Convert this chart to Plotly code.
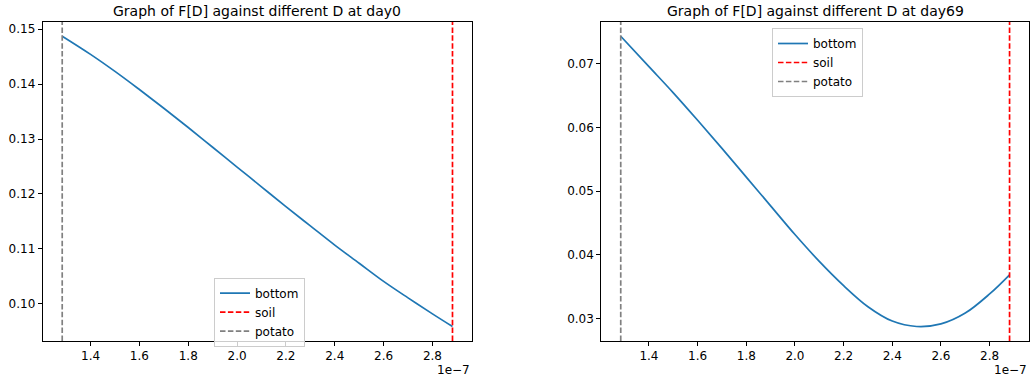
import plotly.graph_objects as go

# ---------------- data ----------------
D_values = [1.284e-7, 1.4e-7, 1.5e-7, 1.6e-7, 1.7e-7, 1.8e-7, 1.9e-7, 2.0e-7, 2.1e-7, 2.2e-7,
            2.3e-7, 2.4e-7, 2.5e-7, 2.6e-7, 2.7e-7, 2.8e-7, 2.882e-7]
F_day0 = [0.1487, 0.1454, 0.1423, 0.1390, 0.1356, 0.1321, 0.1285, 0.1249, 0.1213, 0.1177,
          0.1142, 0.1107, 0.1074, 0.1041, 0.1011, 0.0982, 0.0959]
F_day69 = [0.07427, 0.0695, 0.0654, 0.0611, 0.0567, 0.0522, 0.0477, 0.0432, 0.0390, 0.0352,
           0.0319, 0.02965, 0.0288, 0.0292, 0.0309, 0.0339, 0.0369]
D_potato = 1.284e-7
D_soil = 2.882e-7
x_tick_vals = [1.4e-7, 1.6e-7, 1.8e-7, 2.0e-7, 2.2e-7, 2.4e-7, 2.6e-7, 2.8e-7]
x_tick_text = ["1.4", "1.6", "1.8", "2.0", "2.2", "2.4", "2.6", "2.8"]
titles = ["Graph of F[D] against different D at day0", "Graph of F[D] against different D at day69"]
offset_text = "1e\u22127"

W, H = 1030, 380
FONT = "DejaVu Sans"
BLUE = "#1f77b4"


def padded(vals):
    lo, hi = min(vals), max(vals)
    s = hi - lo
    return [lo - 0.05 * s, hi + 0.05 * s]


xr = padded(D_values + [D_potato, D_soil])
fig = go.Figure()

panels = [
    dict(F=F_day0, xa="x", ya="y", leg="legend", dom=[42.7 / W, 472 / W]),
    dict(F=F_day69, xa="x2", ya="y2", leg="legend2", dom=[601.3 / W, 1029 / W]),
]
ydom = [1 - 341 / H, 1 - 21.7 / H]

for i, p in enumerate(panels):
    yr = padded(p["F"])
    fig.add_trace(go.Scatter(x=D_values, y=p["F"], mode="lines", name="bottom",
                             line=dict(color=BLUE, width=1.7, shape="spline", smoothing=1.0),
                             xaxis=p["xa"], yaxis=p["ya"], legend=p["leg"]))
    fig.add_trace(go.Scatter(x=[D_soil, D_soil], y=yr, mode="lines", name="soil",
                             line=dict(color="#ff0000", width=1.7, dash="5.5px,2.4px"),
                             xaxis=p["xa"], yaxis=p["ya"], legend=p["leg"]))
    fig.add_trace(go.Scatter(x=[D_potato, D_potato], y=yr, mode="lines", name="potato",
                             line=dict(color="#808080", width=1.7, dash="5.5px,2.4px"),
                             xaxis=p["xa"], yaxis=p["ya"], legend=p["leg"]))
    sfx = "" if i == 0 else "2"
    axcommon = dict(showline=True, linecolor="black", linewidth=1, mirror=True,
                    ticks="outside", ticklen=4, tickwidth=1, tickcolor="black",
                    showgrid=False, zeroline=False,
                    tickfont=dict(family=FONT, size=12, color="black"))
    fig.layout["xaxis" + sfx] = dict(domain=p["dom"], range=xr, tickvals=x_tick_vals,
                                     ticktext=x_tick_text, anchor="y" + sfx, **axcommon)
    fig.layout["yaxis" + sfx] = dict(domain=ydom, range=yr, dtick=0.01, tickformat=".2f",
                                     anchor="x" + sfx, **axcommon)
    cx = (p["dom"][0] + p["dom"][1]) / 2
    fig.add_annotation(text=titles[i], x=cx, y=1 - 11 / H, xref="paper", yref="paper",
                       xanchor="center", yanchor="middle", showarrow=False,
                       font=dict(family=FONT, size=14, color="black"))
    fig.add_annotation(text=offset_text, x=p["dom"][1], y=1 - 370 / H, xref="paper", yref="paper",
                       xanchor="right", yanchor="middle", showarrow=False,
                       font=dict(family=FONT, size=12, color="black"))

legcommon = dict(xanchor="left", yanchor="top", bgcolor="rgba(255,255,255,0.8)",
                 bordercolor="#cccccc", borderwidth=1, itemwidth=30, tracegroupgap=0,
                 font=dict(family=FONT, size=12, color="black"))
fig.update_layout(
    width=W, height=H, margin=dict(l=0, r=0, t=0, b=0),
    paper_bgcolor="white", plot_bgcolor="white", showlegend=True,
    legend=dict(x=214 / W, y=1 - 277.7 / H, **legcommon),
    legend2=dict(x=772 / W, y=1 - 28 / H, **legcommon),
    font=dict(family=FONT),
)

fig.write_html("out.html")
